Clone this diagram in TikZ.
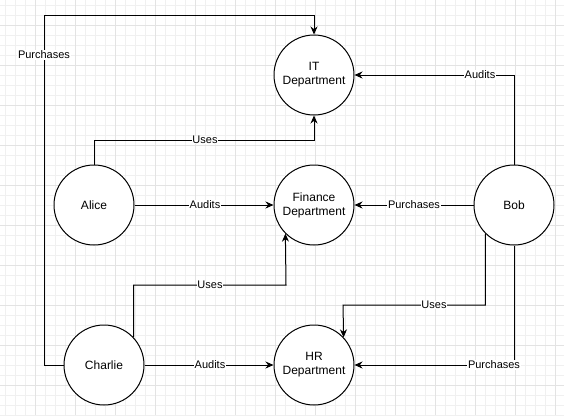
\documentclass[tikz,border=0pt]{standalone}
\usepackage{fontspec}
\setmainfont{Liberation Sans}
\usetikzlibrary{arrows.meta,calc}
\begin{document}
\begin{tikzpicture}[x=1pt,y=-1pt,
  ent/.style={circle,draw,line width=1pt,minimum size=80pt,inner sep=0pt,align=center,font=\fontsize{12}{14}\selectfont,fill=white},
  rel/.style={draw,line width=1pt,-{Stealth[length=8pt,width=7pt]}},
  lab/.style={fill=white,inner sep=0.6pt,font=\fontsize{11}{12}\selectfont},
  minorgrid/.style={draw=black!6,line width=0.7pt},
  majorgrid/.style={draw=black!11,line width=0.7pt}]
\useasboundingbox (0,0) rectangle (564,415);
\fill[white] (0,0) rectangle (564,415);
\begin{scope}
\clip (0,0) rectangle (564,415);
\foreach \x in {5,15,...,565} {\draw[minorgrid] (\x,0) -- (\x,415);}
\foreach \y in {5,15,...,415} {\draw[minorgrid] (0,\y) -- (564,\y);}
\foreach \x in {35,75,...,555} {\draw[majorgrid] (\x,0) -- (\x,415);}
\foreach \y in {25,65,...,405} {\draw[majorgrid] (0,\y) -- (564,\y);}
\end{scope}

\node[ent] (IT) at (314,75) {IT\\Department};
\node[ent] (Fin) at (314,205) {Finance\\Department};
\node[ent] (HR) at (314,365) {HR\\Department};
\node[ent] (Alice) at (94,205) {Alice};
\node[ent] (Bob) at (514,205) {Bob};
\node[ent] (Charlie) at (104,365) {Charlie};

\coordinate (cp1) at (44,365);
\coordinate (cp2) at (44,15);
\coordinate (au) at (314,140);
\coordinate (bu) at (343,305);
\coordinate (cu) at (286,285);

\draw[rel] (Charlie.west) -- (cp1) -- (cp2) -| (IT.north);
\draw[rel] (Alice.north) |- (au) -- (IT.south);
\draw[rel] (Alice.east) -- (Fin.west);
\draw[rel] (Bob.north) |- (IT.east);
\draw[rel] (Bob.west) -- (Fin.east);
\draw[rel] (Bob.225.6) |- (bu) -- (HR.43.5);
\draw[rel] (Bob.south) |- (HR.east);
\draw[rel] (Charlie.43.5) |- (cu) -- (Fin.225.6);
\draw[rel] (Charlie.east) -- (HR.west);

\node[lab] (l1) at (44,55) {Purchases};
\node[lab] (l2) at (205,140) {Uses};
\node[lab] (l3) at (205,205) {Audits};
\node[lab] (l4) at (480,75) {Audits};
\node[lab] (l5) at (414,205) {Purchases};
\node[lab] (l6) at (434,305) {Uses};
\node[lab] (l7) at (494,365) {Purchases};
\node[lab] (l8) at (210,285) {Uses};
\node[lab] (l9) at (210,365) {Audits};
\end{tikzpicture}
\end{document}
